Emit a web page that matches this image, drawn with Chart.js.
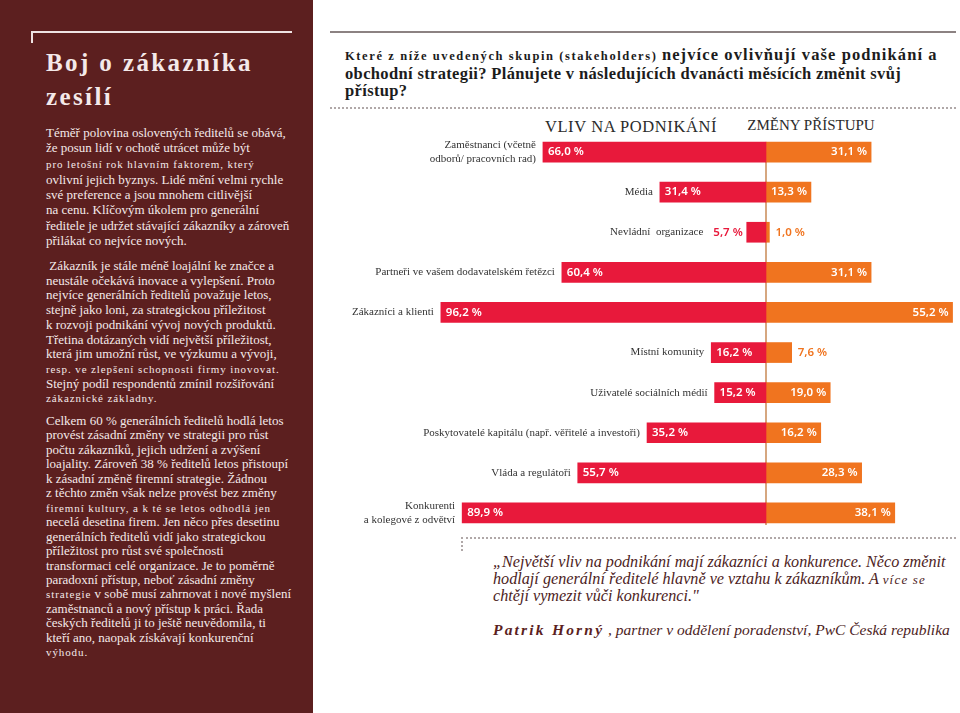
<!DOCTYPE html>
<html>
<head>
<meta charset="utf-8">
<script src="https://cdn.jsdelivr.net/npm/chart.js@4.4.1/dist/chart.umd.min.js"></script>
<style>
  body { margin: 0; width: 960px; height: 713px; position: relative; overflow: hidden; background: #fff; font-family: 'Liberation Serif', Tinos, 'Times New Roman', 'DejaVu Serif', serif; }
  .panel { position: absolute; left: 0; top: 0; width: 313px; height: 713px; background: #5c1f1f; color: #f4e9e9; }
  .rule-h { position: absolute; left: 31px; top: 31px; width: 261px; height: 2px; background: #efe3e3; }
  .rule-v { position: absolute; left: 31px; top: 31px; width: 2px; height: 12px; background: #efe3e3; }
  .title { position: absolute; left: 46px; top: 46px; font-size: 25px; line-height: 34px; font-weight: bold; letter-spacing: 2.4px; white-space: nowrap; }
  .para { position: absolute; left: 46px; font-size: 13px; white-space: nowrap; }
  .sp { font-size: 11px; letter-spacing: 0.9px; }
  .q-top { position: absolute; left: 330px; top: 31px; width: 626px; height: 2px; background: #8c8282; }
  .q-bot { position: absolute; left: 330px; top: 107px; width: 626px; border-top: 2px dotted #b0a8a8; }
  .question { position: absolute; left: 345px; top: 46px; font-size: 16.5px; line-height: 17px; font-weight: bold; color: #1c1c1c; white-space: nowrap; letter-spacing: 0.35px; }
  .question .sp { font-size: 12.5px; letter-spacing: 1.6px; }
  .question .wide { letter-spacing: 1.1px; }
  .head { position: absolute; top: 117px; font-size: 16.5px; color: #2b2b2b; white-space: nowrap; transform: translateX(-50%); }
  .chart-box { position: absolute; left: 330px; top: 132px; width: 630px; height: 401px; }
  .quote-rule { position: absolute; left: 461px; top: 537px; width: 495px; border-top: 2px dotted #b0a8a8; }
  .quote-tick { position: absolute; left: 461px; top: 537px; height: 14px; border-left: 2px dotted #b0a8a8; }
  .quote { position: absolute; left: 493px; top: 554px; font-size: 16.2px; line-height: 17px; font-style: italic; color: #4d1d1d; white-space: nowrap; }
  .quote .sp { font-size: 13px; letter-spacing: 1.2px; }
  .author { position: absolute; left: 493px; top: 621px; font-size: 15.5px; font-style: italic; color: #4d1d1d; white-space: nowrap; }
  .author b { letter-spacing: 2.2px; color: #5c1f1f; }
</style>
</head>
<body>
<div class="panel">
  <div class="rule-h"></div><div class="rule-v"></div>
  <div class="title">Boj o zákazníka<br>zesílí</div>
  <div class="para" style="top:125px;line-height:15.3px">
    Téměř polovina oslovených ředitelů se obává,<br>
    že posun lidí v ochotě utrácet může být<br>
    <span class="sp">pro letošní rok hlavním faktorem, který</span><br>
    ovlivní jejich byznys. Lidé mění velmi rychle<br>
    své preference a jsou mnohem citlivější<br>
    na cenu. Klíčovým úkolem pro generální<br>
    ředitele je udržet stávající zákazníky a zároveň<br>
    přilákat co nejvíce nových.
  </div>
  <div class="para" style="top:259px;line-height:14.7px">
    &nbsp;Zákazník je stále méně loajální ke značce a<br>
    neustále očekává inovace a vylepšení. Proto<br>
    nejvíce generálních ředitelů považuje letos,<br>
    stejně jako loni, za strategickou příležitost<br>
    k rozvoji podnikání vývoj nových produktů.<br>
    Třetina dotázaných vidí největší příležitost,<br>
    která jim umožní růst, ve výzkumu a vývoji,<br>
    <span class="sp">resp. ve zlepšení schopnosti firmy inovovat.</span><br>
    Stejný podíl respondentů zmínil rozšiřování<br>
    <span class="sp">zákaznické základny.</span>
  </div>
  <div class="para" style="top:414px;line-height:14.45px">
    Celkem 60 % generálních ředitelů hodlá letos<br>
    provést zásadní změny ve strategii pro růst<br>
    počtu zákazníků, jejich udržení a zvýšení<br>
    loajality. Zároveň 38 % ředitelů letos přistoupí<br>
    k zásadní změně firemní strategie. Žádnou<br>
    z těchto změn však nelze provést bez změny<br>
    <span class="sp">firemní kultury, a k té se letos odhodlá jen</span><br>
    necelá desetina firem. Jen něco přes desetinu<br>
    generálních ředitelů vidí jako strategickou<br>
    příležitost pro růst své společnosti<br>
    transformaci celé organizace. Je to poměrně<br>
    paradoxní přístup, neboť zásadní změny<br>
    <span class="sp">strategie</span> v sobě musí zahrnovat i nové myšlení<br>
    zaměstnanců a nový přístup k práci. Řada<br>
    českých ředitelů ji to ještě neuvědomila, ti<br>
    kteří ano, naopak získávají konkurenční<br>
    <span class="sp">výhodu.</span>
  </div>
</div>

<div class="q-top"></div>
<div class="question">
  <span class="sp">Které z níže uvedených skupin (stakeholders)</span> <span class="wide">nejvíce ovlivňují vaše podnikání a</span><br>
  obchodní strategii? Plánujete v následujících dvanácti měsících změnit svůj<br>
  přístup?
</div>
<div class="q-bot"></div>

<div class="head" style="left:631px;letter-spacing:0.6px">VLIV NA PODNIKÁNÍ</div>
<div class="head" style="left:811px;font-size:15px">ZMĚNY PŘÍSTUPU</div>

<div class="chart-box"><canvas id="c" width="630" height="401"></canvas></div>

<div class="quote-rule"></div><div class="quote-tick"></div>
<div class="quote">
  „Největší vliv na podnikání mají zákazníci a konkurence. Něco změnit<br>
  hodlají generální ředitelé hlavně ve vztahu k zákazníkům. A <span class="sp">více se</span><br>
  chtějí vymezit vůči konkurenci."
</div>
<div class="author"><b>Patrik Horný</b> , partner v oddělení poradenství, PwC Česká republika</div>

<script>
const categories = [
  ['Zaměstnanci (včetně', 'odborů/ pracovních rad)'],
  'Média',
  'Nevládní  organizace',
  'Partneři ve vašem dodavatelském řetězci',
  'Zákazníci a klienti',
  'Místní komunity',
  'Uživatelé sociálních médií',
  'Poskytovatelé kapitálu (např. věřitelé a investoři)',
  'Vláda a regulátoři',
  ['Konkurenti', 'a kolegové z odvětví']
];
const influence = [66.0, 31.4, 5.7, 60.4, 96.2, 16.2, 15.2, 35.2, 55.7, 89.9];
const change    = [31.1, 13.3, 1.0, 31.1, 55.2, 7.6, 19.0, 16.2, 28.3, 38.1];

const colors = {
  red: '#e8193b',
  orange: '#f0741f',
  axis: '#c98a55',
  label: '#333333'
};

const fmt = v => v.toFixed(1).replace('.', ',') + ' %';
const valueFont = '600 11.5px "Noto Sans", sans-serif';
const catFont = '11px "Liberation Serif", Tinos, "DejaVu Serif", serif';

const barLabels = {
  id: 'barLabels',
  beforeDatasetsDraw(chart) {
    const ctx = chart.ctx;
    const bars = chart.getDatasetMeta(0).data;
    const zero = chart.scales.x.getPixelForValue(0);
    const first = bars[0], last = bars[bars.length - 1];
    ctx.save();
    ctx.strokeStyle = colors.axis;
    ctx.lineWidth = 1.5;
    ctx.beginPath();
    ctx.moveTo(zero, first.y - first.height / 2);
    ctx.lineTo(zero, last.y + last.height / 2 + 2);
    ctx.stroke();
    ctx.restore();
  },
  afterDatasetsDraw(chart) {
    const ctx = chart.ctx;
    ctx.save();
    ctx.textBaseline = 'middle';

    chart.getDatasetMeta(0).data.forEach((bar, i) => {
      const left = Math.min(bar.x, bar.base), right = Math.max(bar.x, bar.base);
      const txt = fmt(influence[i]);
      ctx.font = valueFont;
      const w = ctx.measureText(txt).width;
      let catRight;
      if (w + 10 <= right - left) {
        ctx.fillStyle = '#ffffff';
        ctx.textAlign = 'left';
        ctx.fillText(txt, left + 5, bar.y);
        catRight = left - 7;
      } else {
        ctx.fillStyle = colors.red;
        ctx.textAlign = 'right';
        ctx.fillText(txt, left - 4, bar.y);
        catRight = left - 4 - w - 10;
      }
      ctx.font = catFont;
      ctx.fillStyle = colors.label;
      ctx.textAlign = 'right';
      const lines = [].concat(categories[i]);
      lines.forEach((ln, k) => ctx.fillText(ln, catRight, bar.y + (k - (lines.length - 1) / 2) * 14));
    });

    ctx.font = valueFont;
    chart.getDatasetMeta(1).data.forEach((bar, i) => {
      const left = Math.min(bar.x, bar.base), right = Math.max(bar.x, bar.base);
      const txt = fmt(change[i]);
      const w = ctx.measureText(txt).width;
      if (w + 7 <= right - left) {
        ctx.fillStyle = '#ffffff';
        ctx.textAlign = 'right';
        ctx.fillText(txt, right - 4, bar.y);
      } else {
        ctx.fillStyle = colors.orange;
        ctx.textAlign = 'left';
        ctx.fillText(txt, right + 6, bar.y);
      }
    });
    ctx.restore();
  }
};

new Chart(document.getElementById('c'), {
  type: 'bar',
  data: {
    labels: categories,
    datasets: [
      { label: 'Vliv na podnikání', data: influence.map(v => -v), backgroundColor: colors.red, barThickness: 20, borderWidth: 0 },
      { label: 'Změny přístupu', data: change, backgroundColor: colors.orange, barThickness: 20, borderWidth: 0 }
    ]
  },
  options: {
    indexAxis: 'y',
    responsive: false,
    animation: false,
    devicePixelRatio: 1,
    layout: { padding: 0 },
    plugins: {
      legend: { display: false },
      tooltip: { enabled: false }
    },
    scales: {
      x: { stacked: true, min: -129, max: 57.4, display: false },
      y: { stacked: true, display: false }
    }
  },
  plugins: [barLabels]
});
</script>
</body>
</html>
